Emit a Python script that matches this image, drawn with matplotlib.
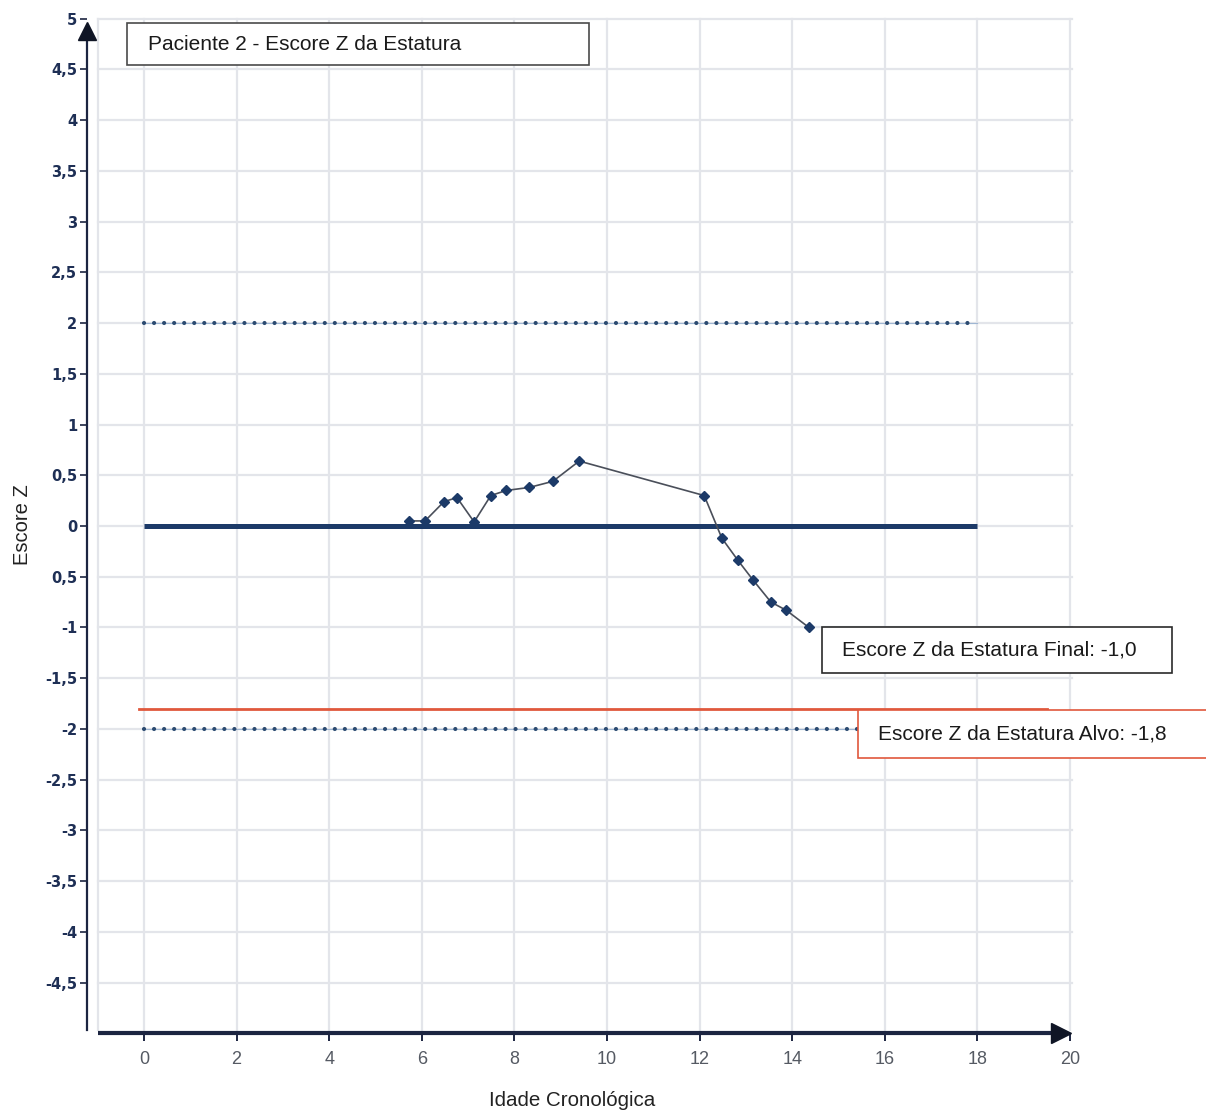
import matplotlib
matplotlib.use("Agg")
import matplotlib.pyplot as plt
from matplotlib.patches import Rectangle

# Patient height Z-score by chronological age
ages = [5.72, 6.07, 6.48, 6.76, 7.13, 7.49, 7.82, 8.32, 8.83, 9.40,
        12.10, 12.48, 12.83, 13.15, 13.54, 13.87, 14.36]
zscores = [0.05, 0.05, 0.24, 0.28, 0.04, 0.30, 0.35, 0.38, 0.44, 0.64,
           0.30, -0.12, -0.34, -0.53, -0.75, -0.83, -1.0]

# Reference lines
ref_span = [0, 18]
upper_limit = 2
lower_limit = -2
median_z = 0
target_z = -1.8
target_span = [-0.1, 19.5]
final_z = zscores[-1]

x_ticks = [0, 2, 4, 6, 8, 10, 12, 14, 16, 18, 20]
y_ticks = [-4.5, -4, -3.5, -3, -2.5, -2, -1.5, -1, -0.5, 0,
           0.5, 1, 1.5, 2, 2.5, 3, 3.5, 4, 4.5, 5]
y_tick_labels = ['-4,5', '-4', '-3,5', '-3', '-2,5', '-2', '-1,5', '-1', '0,5', '0',
                 '0,5', '1', '1,5', '2', '2,5', '3', '3,5', '4', '4,5', '5']

title_text = "Paciente 2 - Escore Z da Estatura"
final_text = "Escore Z da Estatura Final: " + f"{final_z:.1f}".replace('.', ',')
target_text = "Escore Z da Estatura Alvo: " + f"{target_z:.1f}".replace('.', ',')

NAVY = '#1c3a68'
AXIS = '#1c2541'
GRID = '#e3e5ea'
RED = '#e0583c'
FONT = 'Liberation Sans'

W, H = 1206, 1112
fig = plt.figure(figsize=(W / 100, H / 100), dpi=100)
fig.patch.set_facecolor('white')
ax = fig.add_axes([0.06949, 0.06169, 0.82926, 0.93058])
ax.set_xlim(-1.3, 20.3)
ax.set_ylim(-5.1, 5.1)
ax.set_facecolor('white')

grid_left, grid_right = -1.0, 20.05
grid_bottom, grid_top = -4.97, 5.0

# light grid
for x in [grid_left] + x_ticks:
    ax.plot([x, x], [grid_bottom, grid_top], color=GRID, lw=1.6, zorder=0)
for y in y_ticks:
    ax.plot([grid_left, grid_right], [y, y], color=GRID, lw=1.6, zorder=0)

# +2 / -2 limits (dotted)
for lim in (upper_limit, lower_limit):
    ax.plot(ref_span, [lim, lim], color='#9fb6d3', lw=0.8, zorder=2)
    ax.plot(ref_span, [lim, lim], color='#2b4a70', lw=3.0,
            linestyle=(0, (0.01, 2.4)), dash_capstyle='round', zorder=3)

# median line
ax.plot(ref_span, [median_z, median_z], color=NAVY, lw=3.6,
        solid_capstyle='butt', zorder=3)

# target height line
ax.plot(target_span, [target_z, target_z], color=RED, lw=2.0, zorder=3)

# patient series
ax.plot(ages, zscores, color='#4a4f5a', lw=1.2, zorder=4)
ax.plot(ages, zscores, linestyle='none', marker='D', ms=5.5,
        color=NAVY, mec=NAVY, zorder=5)

# axes
for s in ('top', 'right'):
    ax.spines[s].set_visible(False)
ax.spines['left'].set_position(('data', -1.23))
ax.spines['left'].set_bounds(-4.97, 4.85)
ax.spines['left'].set_linewidth(1.6)
ax.spines['left'].set_color(AXIS)
ax.spines['bottom'].set_position(('data', -5.0))
ax.spines['bottom'].set_bounds(-1.0, 19.8)
ax.spines['bottom'].set_linewidth(3.0)
ax.spines['bottom'].set_color(AXIS)
ax.spines['bottom'].set_capstyle('butt')

# axis arrowheads
ax.plot([-1.23], [4.88], marker='^', ms=13, color='#0f1525', clip_on=False, zorder=6)
ax.plot([19.8], [-5.0], marker='>', ms=14, color='#0f1525', clip_on=False, zorder=6)

ax.set_xticks(x_ticks)
ax.set_xticklabels([str(t) for t in x_ticks], fontfamily=FONT)
ax.set_yticks(y_ticks)
ax.set_yticklabels(y_tick_labels, fontfamily='DejaVu Sans', fontweight='bold')
ax.tick_params(axis='x', direction='out', length=6, width=1.4, colors=AXIS,
               labelcolor='#555a63', labelsize=13, pad=7)
ax.tick_params(axis='y', direction='out', length=5, width=1.2, colors=AXIS,
               labelcolor='#1e2f55', labelsize=10.5, pad=2)


def px(x, y):
    return x / W, 1 - y / H


# axis titles
fig.text(*px(572, 1100), "Idade Cronológica", ha='center', va='center',
         fontsize=14.8, color='#222222', fontfamily=FONT)
fig.text(*px(22, 525), "Escore Z", ha='center', va='center', rotation=90,
         fontsize=14.5, color='#222222', fontfamily=FONT)


def box(x0, y0, x1, y1, text, edge, tx):
    fx0, fy1 = px(x0, y0)
    fx1, fy0 = px(x1, y1)
    r = Rectangle((fx0, fy0), fx1 - fx0, fy1 - fy0, transform=fig.transFigure,
                  facecolor='white', edgecolor=edge, lw=1.2, zorder=7)
    fig.add_artist(r)
    fig.text(*px(tx, (y0 + y1) / 2), text, ha='left', va='center',
             fontsize=15, color='#1a1a1a', fontfamily=FONT, zorder=8)


box(127, 23, 589, 65, title_text, '#4a4a4a', 148)
box(822, 627, 1172, 673, final_text, '#2a2a2a', 842)
box(858, 710, 1212, 758, target_text, RED, 878)

fig.savefig('out.png', dpi=100, facecolor='white')
